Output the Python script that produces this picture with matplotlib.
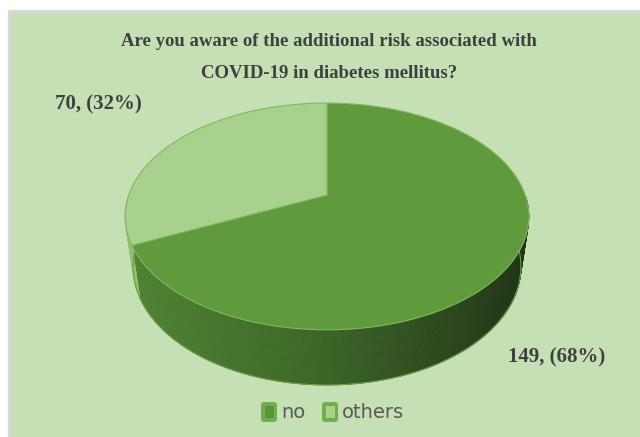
import numpy as np
import matplotlib.pyplot as plt
from matplotlib.patches import Polygon, Rectangle, FancyBboxPatch
from matplotlib.colors import to_rgb

# data
labels = ['no', 'others']
counts = [149, 70]
top_colors = ['#5f9a3c', '#a9d18e']
legend_fill = ['#5a9438', '#a9d18e']

W, H = 640, 437
fig = plt.figure(figsize=(W / 100, H / 100), dpi=100)
ax = fig.add_axes([0, 0, 1, 1])
ax.set_xlim(0, W)
ax.set_ylim(H, 0)
ax.axis('off')

# background / frame
ax.add_patch(Rectangle((0, 0), W, H, color='white', zorder=0))
ax.add_patch(Rectangle((8, 10), W, H, color='#d9d9d9', zorder=0))
ax.add_patch(Rectangle((11, 13), W, H, color='#c5e0b4', zorder=0))

# simple perspective projection of a tilted disc
cx, cy = 327, 195
S, d, c, s, h = 874.0, 4.41, 0.834, 0.5515, 0.316


def proj(t, bottom=False):
    t = np.radians(t)
    x3, z3 = np.sin(t), np.cos(t)
    hh = h if bottom else 0.0
    den = d + z3 * c + hh * s
    u = S * x3 / den
    v = S * (z3 * s - hh * c) / den
    return cx + u, cy - v


total = sum(counts)
bounds = np.concatenate([[0], np.cumsum(counts) / total * 360])

# side wall (front half only), shaded left->right
side_left = {'no': '#4f8433', 'others': '#90c070'}
side_mid = {'no': '#3c6427', 'others': '#7aa85c'}
side_right = {'no': '#213517', 'others': '#5a8040'}


def side_color(name, x):
    f = (x - 125) / (530 - 125)
    a, m, b = [np.array(to_rgb(k[name])) for k in (side_left, side_mid, side_right)]
    if f < 0.5:
        return a + (m - a) * f * 2
    return m + (b - m) * (f - 0.5) * 2


for i, name in enumerate(labels):
    t0, t1 = max(bounds[i], 90), min(bounds[i + 1], 270)
    if t1 <= t0:
        continue
    ts = np.linspace(t0, t1, int((t1 - t0) * 2) + 2)
    for a, b in zip(ts[:-1], ts[1:]):
        p = [proj(a), proj(b), proj(b, True), proj(a, True)]
        col = side_color(name, (p[0][0] + p[1][0]) / 2)
        ax.add_patch(Polygon(p, closed=True, fc=col, ec=col, lw=0.6, zorder=2))

# bottom rim highlight
tb = np.linspace(90, 270, 200)
bx, by = zip(*[proj(t, True) for t in tb])
ax.plot(bx, by, color='#6a9e48', lw=0.8, zorder=3)

# top faces
for i, name in enumerate(labels):
    ts = np.linspace(bounds[i], bounds[i + 1], 200)
    pts = [(cx, cy)] + [proj(t) for t in ts]
    ax.add_patch(Polygon(pts, closed=True, fc=top_colors[i], ec='#7dbb5a',
                         lw=0.8, zorder=4))

# title
serif = ['Liberation Serif', 'DejaVu Serif']
ax.text(329, 41, 'Are you aware of the additional risk associated with',
        ha='center', va='center', fontsize=13.5, fontweight='bold',
        family=serif, color='#404040', zorder=5)
ax.text(329, 73, 'COVID-19 in diabetes mellitus?',
        ha='center', va='center', fontsize=13.5, fontweight='bold',
        family=serif, color='#404040', zorder=5)

# data labels
pct = [round(v / total * 100) for v in counts]
ax.text(557, 357, f'{counts[0]}, ({pct[0]}%)', ha='center', va='center',
        fontsize=15, fontweight='bold', family=serif, color='#404040', zorder=5)
ax.text(98, 104, f'{counts[1]}, ({pct[1]}%)', ha='center', va='center',
        fontsize=15, fontweight='bold', family=serif, color='#404040', zorder=5)

# legend
lx = [261, 322]
for i, name in enumerate(labels):
    x0 = lx[i]
    ax.add_patch(FancyBboxPatch((x0, 402), 16, 20, boxstyle='round,pad=0,rounding_size=3',
                                fc='#70b04c', ec='none', zorder=5))
    ax.add_patch(Rectangle((x0 + 3.5, 406), 9, 12, fc=legend_fill[i], ec='none', zorder=6))
    ax.text(x0 + 20, 412, name, ha='left', va='center', fontsize=14,
            family=['DejaVu Sans'], color='#595959', zorder=6)

fig.savefig('out.png', dpi=100)
